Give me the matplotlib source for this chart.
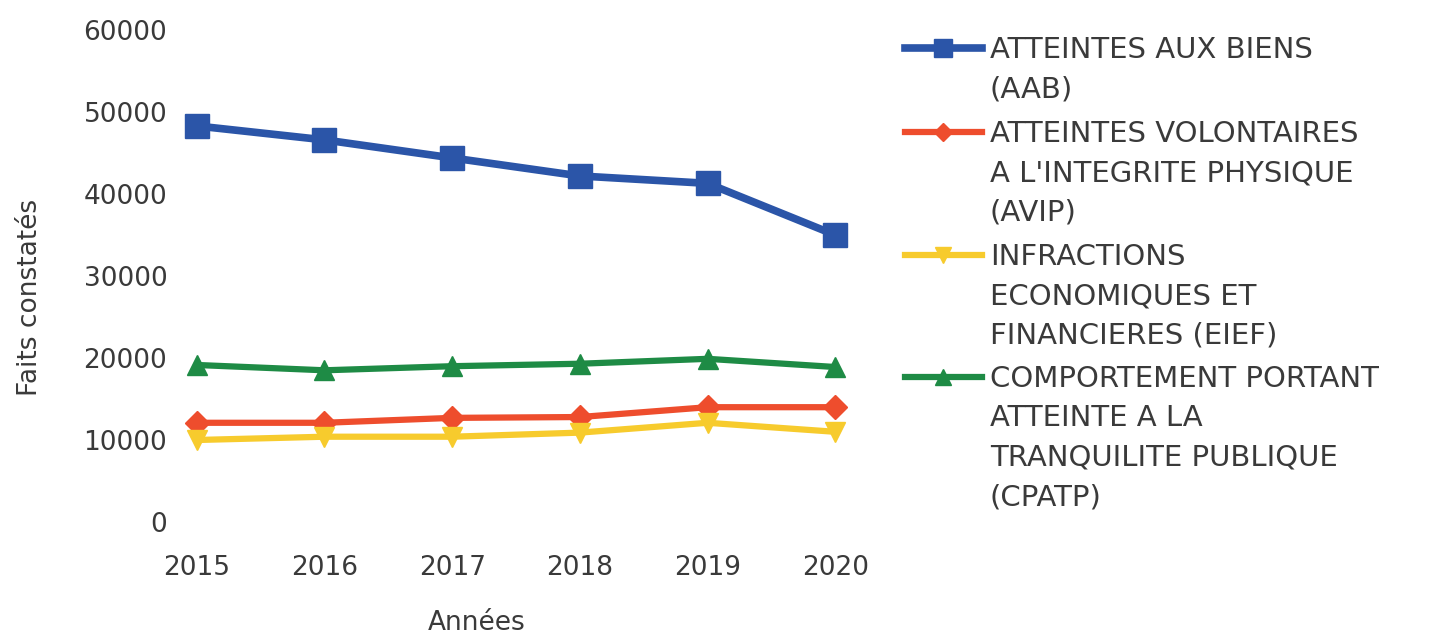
import matplotlib
matplotlib.use("Agg")
import matplotlib.pyplot as plt
from matplotlib.lines import Line2D

plt.rcParams['font.family'] = ['DejaVu Sans']

years = [2015, 2016, 2017, 2018, 2019, 2020]
aab = [48300, 46600, 44400, 42200, 41300, 35000]
avip = [12100, 12100, 12700, 12800, 14000, 14000]
eief = [10000, 10400, 10400, 10900, 12100, 11000]
cpatp = [19150, 18500, 19000, 19300, 19900, 18900]

labels = [
    "ATTEINTES AUX BIENS\n(AAB)",
    "ATTEINTES VOLONTAIRES\nA L'INTEGRITE PHYSIQUE\n(AVIP)",
    "INFRACTIONS\nECONOMIQUES ET\nFINANCIERES (EIEF)",
    "COMPORTEMENT PORTANT\nATTEINTE A LA\nTRANQUILITE PUBLIQUE\n(CPATP)",
]
series = [aab, avip, eief, cpatp]
colors = ["#2B55A8", "#EE4D2D", "#F7CB2D", "#1E8B45"]
markers = ["s", "D", "v", "^"]
msizes = [17, 12, 15, 15]
lwidths = [5.5, 4.5, 4.5, 4.5]

TXT = "#3a3a3a"
FS = 19
LEG_FS = 21

fig = plt.figure(figsize=(14.46, 6.4), dpi=100)
ax = fig.add_axes([184 / 1446, 118 / 640, 664 / 1446, 492 / 640])

for vals, c, m, ms, lw in zip(series, colors, markers, msizes, lwidths):
    ax.plot(years, vals, color=c, marker=m, markersize=ms, linewidth=lw,
            solid_joinstyle="round", solid_capstyle="round")

ax.set_xlim(2014.9, 2020.1)
ax.set_ylim(0, 60000)
ax.set_xticks(years)
ax.set_yticks(range(0, 60001, 10000))
for s in ax.spines.values():
    s.set_visible(False)
ax.tick_params(axis="both", length=0, labelsize=FS, labelcolor=TXT)
ax.tick_params(axis="x", pad=24)
ax.tick_params(axis="y", pad=12)

ax.set_xlabel("Années", fontsize=FS, color=TXT)
ax.set_ylabel("Faits constatés", fontsize=FS, color=TXT)
ax.xaxis.set_label_coords(0.441, -0.178)
ax.yaxis.set_label_coords(-0.212, 0.457)

# legend drawn by hand so each marker sits on the first line of its label
first_line_y = [48, 132, 255, 377]
for lab, c, m, ms, lw, yl in zip(labels, colors, markers, msizes, lwidths, first_line_y):
    yc = 1 - yl / 640
    ln = Line2D([905 / 1446, 943 / 1446, 982 / 1446], [yc, yc, yc],
                transform=fig.transFigure, color=c, marker=m,
                markersize=ms * 0.8, linewidth=lw, markevery=[1])
    fig.add_artist(ln)
    fig.text(990 / 1446, 1 - (yl - 12) / 640, lab, fontsize=LEG_FS, color=TXT,
             va="top", ha="left", linespacing=1.52)

fig.savefig("out.png", dpi=100)
